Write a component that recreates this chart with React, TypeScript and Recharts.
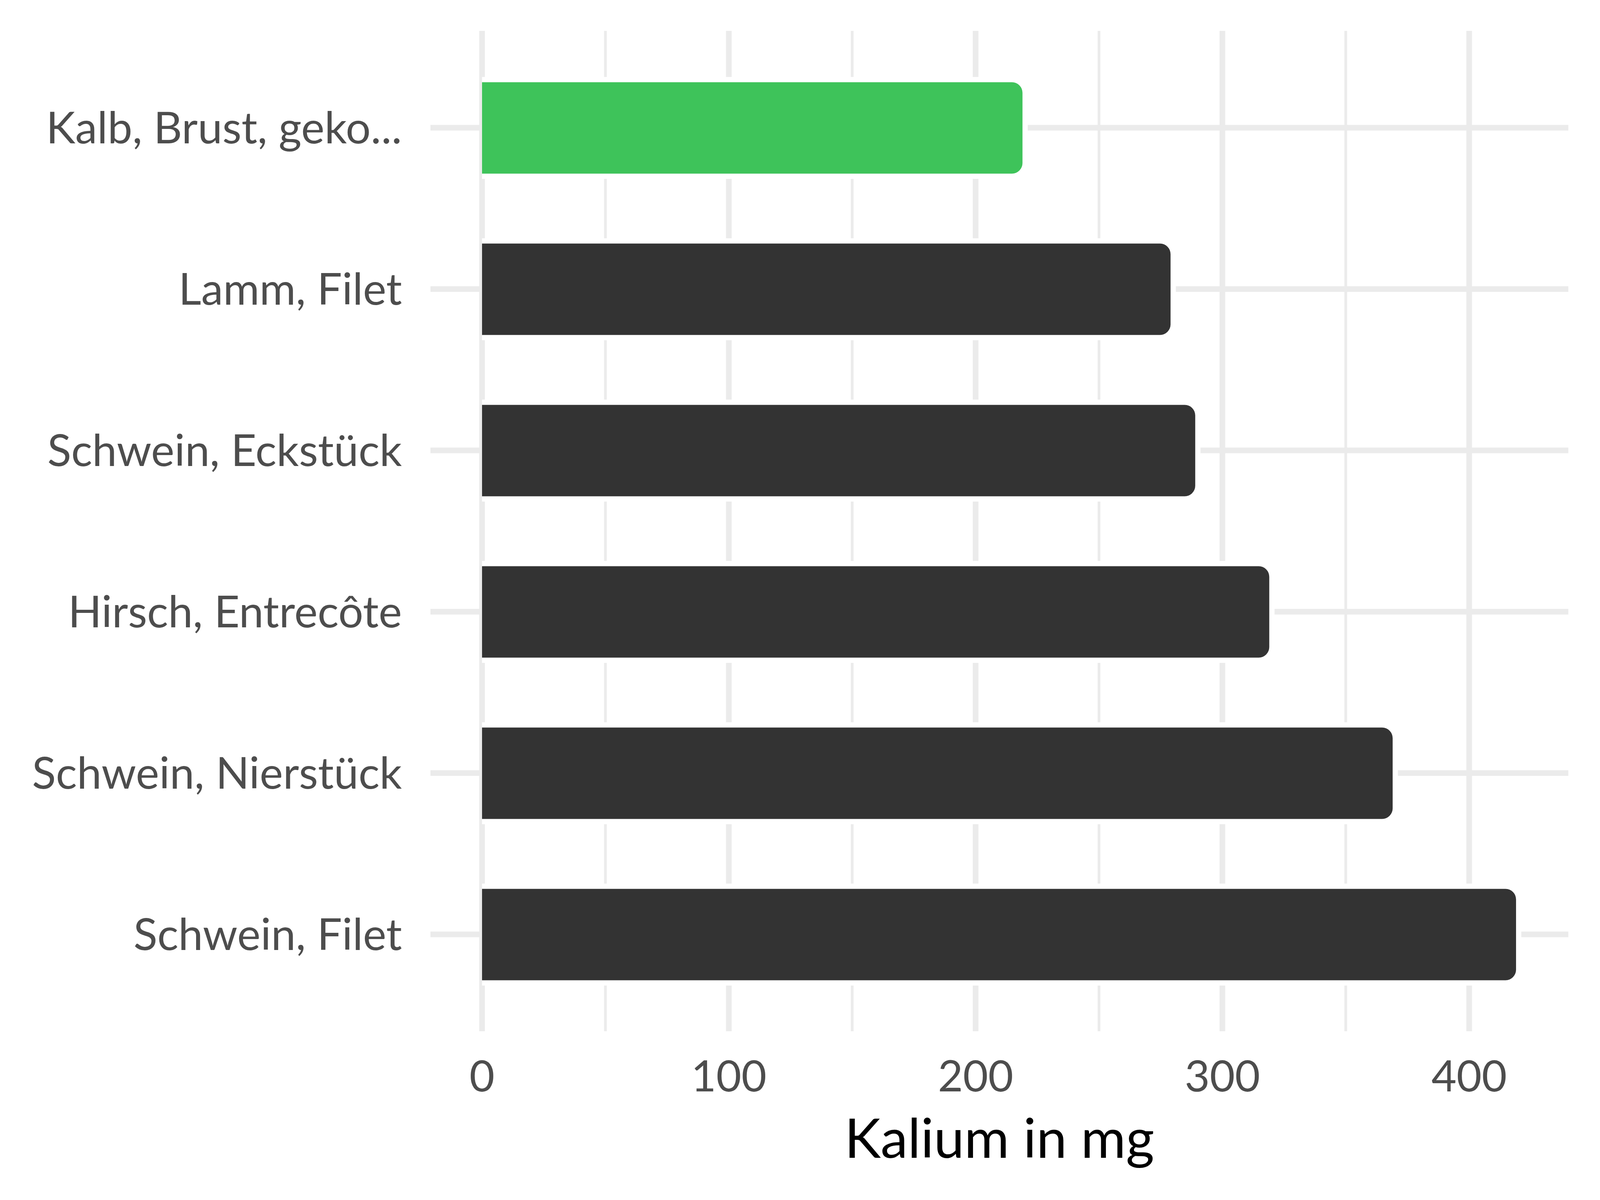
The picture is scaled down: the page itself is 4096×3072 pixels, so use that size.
import { BarChart, Bar, XAxis, YAxis, CartesianGrid, Cell, Label } from "recharts";

const categories = [
    "Kalb, Brust, geko...",
    "Lamm, Filet",
    "Schwein, Eckstück",
    "Hirsch, Entrecôte",
    "Schwein, Nierstück",
    "Schwein, Filet",
];
const values = [219, 279, 289, 319, 369, 419];
const barColors = ["#3EC35A", "#333333", "#333333", "#333333", "#333333", "#333333"];
const xTicks = [0, 50, 100, 150, 200, 250, 300, 350, 400];
const xDomain = [-20.9, 440.2];

const data = categories.map((name, i) => ({ name, value: values[i] }));

const FONT = "Lato, 'Open Sans', sans-serif";
const GRID = "#EBEBEB";
const R = 27;
const GAP = 27;

// plot area in px
const LEFT = 1102;
const RIGHT = 4096 - 81;
const TOP = 79;
const BOTTOM = 2640;

const RoundedBar = (props: any) => {
    const { x, y, width, height, fill } = props;
    if (!width || width <= 0) return null;
    const r = Math.min(R, width / 2, height / 2);
    const right = x + width;
    const outline = `M${x},${y} H${right - r} A${r},${r} 0 0 1 ${right},${y + r} V${y + height - r} A${r},${r} 0 0 1 ${right - r},${y + height} H${x}`;
    return (
        <g>
            <path d={outline} fill="none" stroke="#FFFFFF" strokeWidth={GAP} strokeLinejoin="round" />
            <path d={`${outline} Z`} fill={fill} />
        </g>
    );
};

// major / minor vertical grid, no panel border lines
const vLine = (p: any) => {
    const v = xDomain[0] + ((p.x1 - LEFT) / (RIGHT - LEFT)) * (xDomain[1] - xDomain[0]);
    const rv = Math.round(v);
    if (Math.abs(v - rv) > 2 || rv % 50 !== 0) return <g key={p.key} />;
    return (
        <line
            key={p.key}
            x1={p.x1}
            y1={p.y1}
            x2={p.x2}
            y2={p.y2}
            stroke={GRID}
            strokeWidth={rv % 100 === 0 ? 14.5 : 7}
        />
    );
};

const hLine = (p: any) => {
    if (Math.abs(p.y1 - TOP) < 3 || Math.abs(p.y1 - BOTTOM) < 3) return <g key={p.key} />;
    return <line key={p.key} x1={p.x1} y1={p.y1} x2={p.x2} y2={p.y2} stroke={GRID} strokeWidth={14.5} />;
};

const App = () => {
    return (
        <div style={{ position: "fixed", left: 0, top: 0, width: 4096, height: 3072, background: "#fff" }}>
            <BarChart
                width={4096}
                height={3072}
                data={data}
                layout="vertical"
                margin={{ top: TOP, right: 81, bottom: 0, left: 0 }}
            >
                <CartesianGrid vertical={vLine} horizontal={hLine} />
                <XAxis
                    type="number"
                    dataKey="value"
                    domain={xDomain}
                    allowDataOverflow
                    ticks={xTicks}
                    interval={0}
                    tickFormatter={(v: number) => (v % 100 === 0 ? String(v) : "")}
                    axisLine={false}
                    tickLine={false}
                    tickSize={0}
                    tickMargin={75}
                    height={3072 - BOTTOM}
                    tick={{ fill: "#4D4D4D", fontSize: 111, fontFamily: FONT }}
                >
                    <Label
                        content={(p: any) => {
                            const vb = p.viewBox;
                            return (
                                <text
                                    x={vb.x + vb.width / 2}
                                    y={vb.y + 324}
                                    textAnchor="middle"
                                    fill="#000000"
                                    fontSize={140}
                                    fontFamily={FONT}
                                >
                                    Kalium in mg
                                </text>
                            );
                        }}
                    />
                </XAxis>
                <YAxis
                    type="category"
                    dataKey="name"
                    width={LEFT}
                    interval={0}
                    axisLine={false}
                    tickLine={false}
                    tickSize={0}
                    tickMargin={73}
                    padding={{ top: 41.5, bottom: 41.5 }}
                    tick={{ fill: "#4D4D4D", fontSize: 113, fontFamily: FONT }}
                />
                <Bar dataKey="value" barSize={234} shape={RoundedBar} isAnimationActive={false}>
                    {data.map((d, i) => (
                        <Cell key={d.name} fill={barColors[i]} />
                    ))}
                </Bar>
            </BarChart>
        </div>
    );
};

export default App;
